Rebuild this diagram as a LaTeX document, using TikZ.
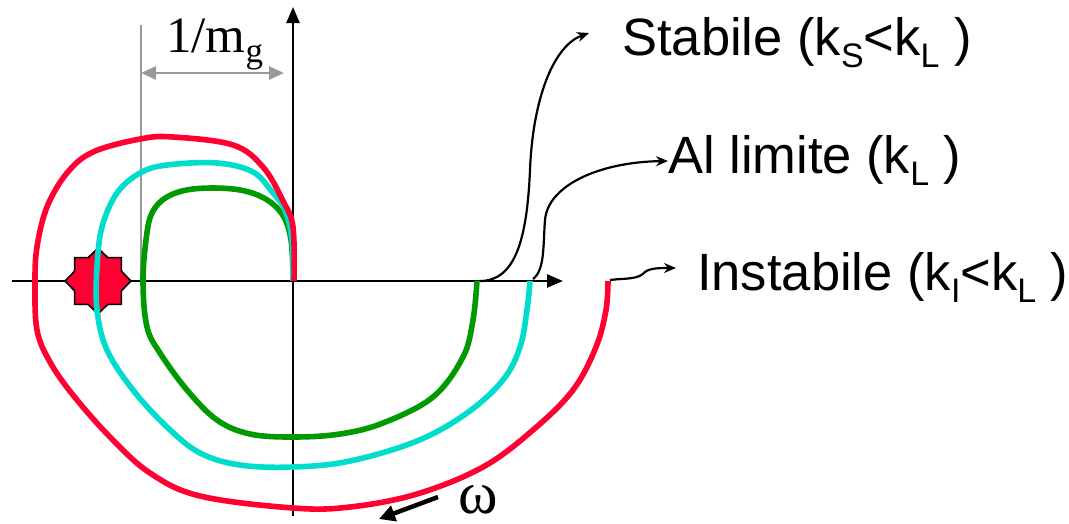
\documentclass[tikz,border=0pt]{standalone}
\usepackage{fontspec}
\usetikzlibrary{arrows.meta,shapes.geometric}
\newfontfamily\arialf{Liberation Sans}
\newfontfamily\timesf{Liberation Serif}
\definecolor{nred}{HTML}{FF0033}
\definecolor{ncyan}{HTML}{00DDCC}
\definecolor{ngreen}{HTML}{009900}
\definecolor{ngray}{HTML}{999999}
\newcommand\lsub[1]{\raisebox{-12pt}{\fontsize{34}{34}\selectfont #1}}
\tikzset{
  axisline/.style={line width=2.6pt,-{Triangle[length=16pt,width=13pt]}},
  curve/.style={line width=5.6pt,line cap=butt,line join=round},
  conn/.style={line width=2.2pt,-{Stealth[length=12pt,width=10pt]}},
  biglabel/.style={inner sep=0,anchor=base west,font=\arialf\fontsize{52.5}{60}\selectfont},
}
\begin{document}
\begin{tikzpicture}[x=1pt,y=-1pt]
\useasboundingbox (0,0) rectangle (1069,523);
% axes
\coordinate (xs) at (12,281);
\coordinate (xe) at (563,281);
\coordinate (ys) at (293,516);
\coordinate (ye) at (293,7);
\draw[axisline] (xs) -- (xe);
\draw[axisline] (ys) -- (ye);
% gray 1/m_g marker
\coordinate (gt) at (141,25);
\coordinate (gb) at (141,281);
\draw[ngray,line width=2.2pt] (gt) -- (gb);
\coordinate (ga) at (141,73);
\coordinate (gz) at (284,73);
\draw[ngray,line width=2.8pt,{Triangle[length=15pt,width=13pt]}-{Triangle[length=15pt,width=13pt]}] (ga) -- (gz);
\node[inner sep=0,anchor=base west,font=\timesf\fontsize{51}{55}\selectfont] (mg) at (166,52) {1/m\raisebox{-10pt}{\fontsize{35}{35}\selectfont g}};
% critical point star
\node[star,star points=8,star point ratio=1.3,minimum size=66pt,inner sep=0,
      fill=nred,draw=black,line width=1.6pt] (crit) at (98,281) {};
% curves
\draw[curve,ngreen] plot[smooth,tension=0.6] coordinates {(293,281) (291,240) (282,214) (262,197) (233,189) (193,189) (167,197) (152,213) (146,240) (143,283) (147,327) (160,353) (187,390) (217,420) (250,434) (293,437) (340,434) (383,423) (433,397) (463,357) (473,320) (477,281)};
\draw[curve,ncyan] plot[smooth,tension=0.6] coordinates {(293,281) (292,240) (285,210) (273,193) (253,172) (217,163) (167,165) (140,173) (117,193) (102,227) (97,267) (97,310) (107,350) (133,390) (167,427) (200,453) (240,465) (293,467) (350,461) (417,441) (467,413) (503,380) (520,347) (527,310) (530,281)};
\draw[curve,nred] plot[smooth,tension=0.6] coordinates {(294,281) (293,227) (283,201) (263,167) (233,145) (173,137) (140,139) (93,152) (67,173) (47,207) (37,247) (35,283) (37,330) (50,362) (73,395) (110,437) (150,473) (200,496) (293,508) (350,507) (417,494) (483,467) (533,430) (573,390) (596,347) (606,310) (608,281)};
% labels
\node[biglabel] (stab) at (622,55) {Stabile (k\lsub{S}<k\lsub{L} )};
\node[biglabel] (lim) at (668,173) {Al limite (k\lsub{L} )};
\node[biglabel] (inst) at (697,290) {Instabile (k\lsub{I}<k\lsub{L} )};
% connectors
\coordinate (cS) at (480,281);
\coordinate (tS) at (589,33);
\coordinate (cL) at (533,279);
\coordinate (tL) at (668,161);
\coordinate (cI) at (610,280);
\coordinate (tI) at (676,268);
\draw[conn] (cS) .. controls (515,281) and (527,240) .. (530,170) .. controls (533,95) and (555,45) .. (tS);
\draw[conn] (cL) .. controls (545,270) and (543,245) .. (545,220) .. controls (548,185) and (600,162) .. (tL);
\draw[conn] (cI) .. controls (625,278) and (638,280) .. (645,272) .. controls (650,268) and (660,268) .. (tI);
% omega
\coordinate (wa) at (438,497);
\coordinate (wb) at (379,519);
\draw[line width=4.5pt,-{Triangle[length=16pt,width=16pt]}] (wa) -- (wb);
\node[inner sep=0,anchor=base west,font=\timesf\fontsize{60}{64}\selectfont] (om) at (458,513) {ω};
\end{tikzpicture}
\end{document}
